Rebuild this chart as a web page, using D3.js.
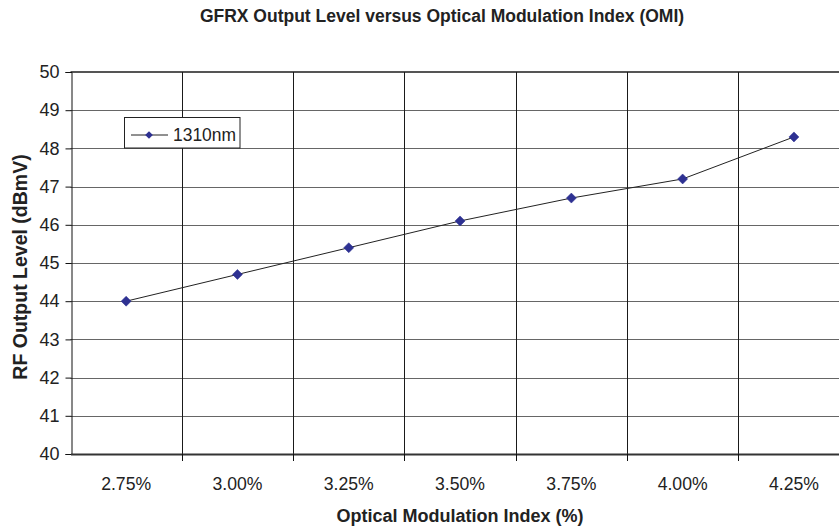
<!DOCTYPE html>
<html><head><meta charset="utf-8">
<script src="https://cdn.jsdelivr.net/npm/d3@7"></script>
<style>body{margin:0;background:#fff}svg{display:block;overflow:hidden}text{font-family:"Liberation Sans",Arial,sans-serif}</style>
</head><body><svg id="c" width="839" height="529"></svg>
<script>
const categories = ["2.75%","3.00%","3.25%","3.50%","3.75%","4.00%","4.25%"];
const values1310 = [44.0,44.7,45.4,46.1,46.7,47.2,48.3];
const yTicks = [40,41,42,43,44,45,46,47,48,49,50];
const seriesName = "1310nm";

const FONT = '"Liberation Sans",Arial,sans-serif';
const svg = d3.select("#c");
const L = 70.5, R = 849.6, T = 72, B = 454;
const x = d3.scaleBand().domain(categories).range([L, R]).padding(0);
const y = d3.scaleLinear().domain([40, 50]).range([B, T]);
const px = v => Math.round(v) + 0.5;

// horizontal grid
svg.append("g").selectAll("line").data(yTicks.filter(d => d !== 40)).join("line")
  .attr("x1", L).attr("x2", R).attr("y1", d => d===50 ? Math.round(y(d)) : px(y(d))).attr("y2", d => d===50 ? Math.round(y(d)) : px(y(d)))
  .attr("stroke", d => d===50 ? "#555" : "#666").attr("stroke-width", d => d===50 ? 2 : 1);
// vertical grid at band boundaries
svg.append("g").selectAll("line").data(categories.slice(1)).join("line")
  .attr("x1", d => px(x(d))).attr("x2", d => px(x(d))).attr("y1", T).attr("y2", B)
  .attr("stroke", "#1a1a1a").attr("stroke-width", 1);

// y axis
const ya = svg.append("g").attr("transform", `translate(${px(L)},0)`)
  .call(d3.axisLeft(y).tickValues(yTicks).tickSize(6).tickPadding(6).tickFormat(d3.format("d")));
ya.select(".domain").attr("stroke", "#111");
ya.selectAll(".tick line").attr("stroke", "#111");
ya.selectAll("text").attr("font-size", 18).attr("fill", "#222").attr("font-family", FONT);

// x axis
const xa = svg.append("g").attr("transform", `translate(0,${B})`)
  .call(d3.axisBottom(x).tickSize(0).tickPadding(0));
xa.select(".domain").attr("stroke", "#333").attr("stroke-width", 2);
xa.selectAll("text").attr("font-size", 18).attr("fill", "#222").attr("font-family", FONT)
  .attr("y", 36).attr("dy", null).attr("textLength", 50).attr("lengthAdjust", "spacingAndGlyphs");
svg.append("g").selectAll("line").data(categories.slice(1)).join("line")
  .attr("x1", d => px(x(d))).attr("x2", d => px(x(d))).attr("y1", B).attr("y2", B+7)
  .attr("stroke", "#111");

// series line + markers
const cx = d => x(d) + x.bandwidth()/2;
const pts = categories.map((c,i)=>[cx(c), y(values1310[i])]);
svg.append("path").attr("d", d3.line()(pts)).attr("fill","none").attr("stroke","#222").attr("stroke-width",1);
const marker = d3.symbol().type(d3.symbolSquare).size(50);
svg.append("g").selectAll("path").data(pts).join("path")
  .attr("transform", d => `translate(${d[0]},${d[1]}) rotate(45)`).attr("d", marker)
  .attr("fill","#2E3192").attr("stroke","#2E3192").attr("stroke-width",0.5);

// legend
const lg = svg.append("g");
lg.append("rect").attr("x",124.5).attr("y",117.5).attr("width",115.5).attr("height",30.5).attr("fill","#fff").attr("stroke","#222");
lg.append("line").attr("x1",131).attr("x2",168).attr("y1",135).attr("y2",135).attr("stroke","#222");
lg.append("path").attr("transform","translate(149,135) rotate(45)").attr("d",d3.symbol().type(d3.symbolSquare).size(30)).attr("fill","#2E3192");
lg.append("text").attr("x",173).attr("y",141).attr("font-size",19).attr("fill","#222")
  .attr("textLength",63).attr("lengthAdjust","spacingAndGlyphs").text(seriesName);

// titles
svg.append("text").attr("x",442).attr("y",22).attr("text-anchor","middle").attr("font-size",17.5).attr("font-weight","bold").attr("fill","#222")
  .text("GFRX Output Level versus Optical Modulation Index (OMI)");
svg.append("text").attr("x",(L+R)/2).attr("y",522).attr("text-anchor","middle").attr("font-size",18).attr("font-weight","bold").attr("fill","#222")
  .text("Optical Modulation Index (%)");
svg.append("text").attr("transform",`translate(26.5,${(T+B)/2+4}) rotate(-90)`).attr("text-anchor","middle").attr("font-size",19.5).attr("font-weight","bold").attr("fill","#222")
  .text("RF Output Level (dBmV)");
</script></body></html>
